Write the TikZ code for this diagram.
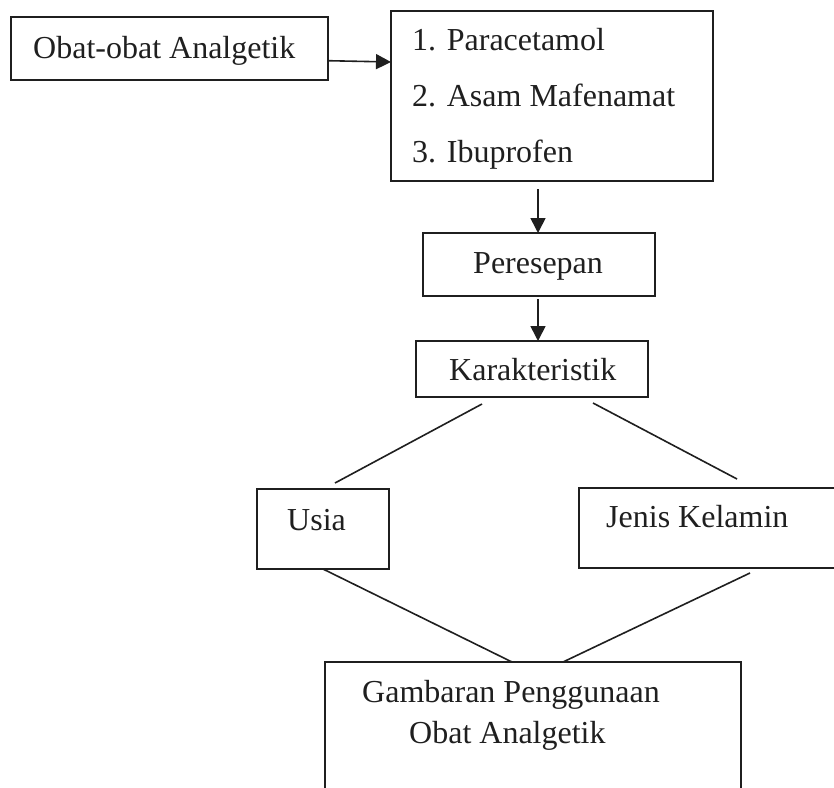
\documentclass[tikz,border=0pt]{standalone}
\usepackage{fontspec}
\setmainfont{Liberation Serif}
\usetikzlibrary{arrows.meta,calc}
\begin{document}
\begin{tikzpicture}[x=1pt,y=-1pt,
  box/.style={draw=black!88, line width=1.6pt, inner sep=0pt, outer sep=0pt, anchor=north west},
  lbl/.style={anchor=base west, inner sep=0pt, text=black!88, font=\fontsize{32}{38}\selectfont},
  conn/.style={draw=black!88, line width=1.6pt},
  arr/.style={conn, -{Triangle[length=15pt,width=15pt]}}]
\useasboundingbox (0,0) rectangle (834,787);
\clip (0,0) rectangle (834,787);
% boxes
\node[box, minimum width=317pt, minimum height=63pt] (obat) at (10.7,16.7) {};
\node[box, minimum width=322pt, minimum height=170pt] (list) at (391,11) {};
\node[box, minimum width=232pt, minimum height=63pt] (pere) at (423,233) {};
\node[box, minimum width=232pt, minimum height=56pt] (kar) at (416,341) {};
\node[box, minimum width=132pt, minimum height=80pt] (usia) at (257,489) {};
\node[box, minimum width=280pt, minimum height=80pt] (jenis) at (579,488) {};
\node[box, minimum width=416pt, minimum height=140pt] (gamb) at (325,662) {};
% texts
\node[lbl] (tobat) at (33,58) {Obat-obat Analgetik};
\node[lbl] (tl1) at (412,50) {1. Paracetamol};
\node[lbl] (tl2) at (412,106) {2. Asam Mafenamat};
\node[lbl] (tl3) at (412,162) {3. Ibuprofen};
\node[lbl] (tpere) at (473,273) {Peresepan};
\node[lbl] (tkar) at (449,380) {Karakteristik};
\node[lbl] (tusia) at (287,530) {Usia};
\node[lbl] (tjenis) at (606,527) {Jenis Kelamin};
\node[lbl] (tg1) at (362,702) {Gambaran Penggunaan};
\node[lbl] (tg2) at (409,743) {Obat Analgetik};
% connectors
\draw[arr] ($(obat.north east)+(0,44)$) -- ($(list.north west)+(0,51)$);
\draw[arr] ($(list.south west)+(147,8)$) -- ($(pere.north west)+(115,0)$);
\draw[arr] ($(pere.south west)+(115,3)$) -- ($(kar.north west)+(122,0)$);
\draw[conn] ($(kar.south west)+(66,7)$) -- ($(usia.north west)+(78,-6)$);
\draw[conn] ($(kar.south west)+(177,6)$) -- ($(jenis.north west)+(158,-9)$);
\draw[conn] ($(usia.south west)+(66,0)$) -- ($(gamb.north west)+(187,0)$);
\draw[conn] ($(jenis.south west)+(171,5)$) -- ($(gamb.north west)+(238,0)$);
\end{tikzpicture}
\end{document}
